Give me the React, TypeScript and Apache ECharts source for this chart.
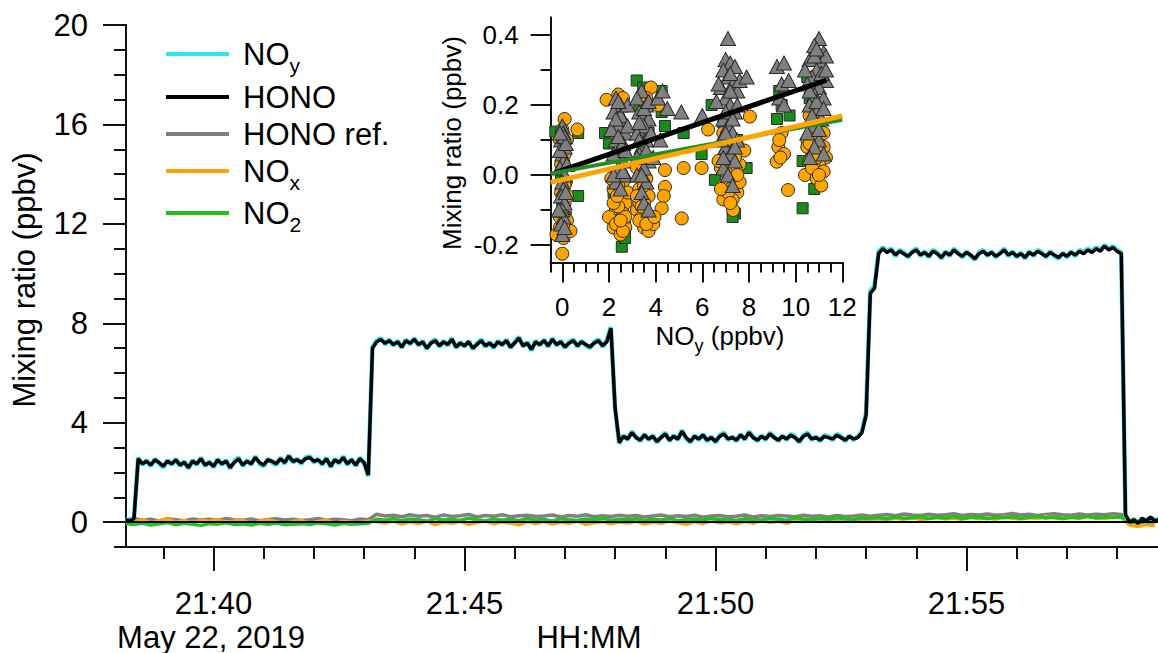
import React, { useEffect, useRef } from "react";
import * as echarts from "echarts";

// ---------- time base (minutes after 21:00) ----------
const START_MIN = 38.25;
const FAST_STEP_MIN = 5 / 60;
const SLOW_STEP_MIN = 10 / 60;

// ---------- main time series (5 s) ----------
const HONO = [
  0.10, 0.05, 0.15,
  2.55, 2.35, 2.45, 2.30, 2.50, 2.40, 2.25, 2.45, 2.35, 2.50,
  2.30, 2.40, 2.20, 2.45, 2.35, 2.55, 2.30, 2.40, 2.25, 2.50,
  2.35, 2.45, 2.20, 2.40, 2.55, 2.30, 2.45, 2.35, 2.60, 2.40,
  2.30, 2.50, 2.45, 2.35, 2.55, 2.40, 2.65, 2.45, 2.50, 2.40,
  2.55, 2.60, 2.45, 2.50, 2.35, 2.55, 2.25, 2.50, 2.40, 2.60,
  2.35, 2.50, 2.30, 2.55, 2.40,
  1.90,
  7.00, 7.25, 7.35, 7.20, 7.30, 7.15, 7.25, 7.05, 7.30, 7.20,
  7.35, 7.15, 7.25, 7.00, 7.20, 7.30, 7.10, 7.25, 7.15, 7.35,
  7.05, 7.20, 7.10, 7.25, 7.00, 7.15, 7.30, 7.10, 7.20, 7.05,
  7.25, 7.15, 7.30, 7.05, 7.20, 7.40, 7.10, 7.20, 6.95, 7.25,
  7.15, 7.30, 7.10, 7.35, 7.15, 7.25, 7.05, 7.20, 7.30, 7.10,
  7.25, 7.15, 7.05, 7.20, 7.30, 7.10, 7.25,
  7.80, 4.60,
  3.20, 3.45, 3.35, 3.60, 3.40, 3.30, 3.50, 3.35, 3.45, 3.25,
  3.40, 3.55, 3.30, 3.45, 3.35, 3.65, 3.40, 3.25, 3.45, 3.35,
  3.50, 3.30, 3.40, 3.25, 3.45, 3.55, 3.35, 3.40, 3.30, 3.50,
  3.35, 3.60, 3.40, 3.30, 3.45, 3.35, 3.55, 3.40, 3.30, 3.45,
  3.35, 3.50, 3.40, 3.25, 3.45, 3.55, 3.35, 3.40, 3.30, 3.45,
  3.40, 3.35, 3.50, 3.40, 3.30, 3.45, 3.35, 3.40,
  3.60, 4.30, 9.20, 9.40, 10.80,
  11.00, 10.85, 10.95, 10.75, 10.90, 10.80, 10.70, 10.85, 10.95, 10.75,
  10.85, 10.70, 10.90, 10.80, 10.65, 10.85, 10.75, 10.95, 10.80, 10.70,
  10.85, 10.75, 10.60, 10.80, 10.90, 10.75, 10.85, 10.70, 10.80, 10.95,
  10.75, 10.85, 10.70, 10.80, 10.65, 10.85, 10.75, 10.90, 10.80, 10.70,
  10.85, 10.75, 10.65, 10.80, 10.70, 10.85, 10.75, 10.90, 10.80, 10.95,
  10.85, 11.00, 10.90, 11.10, 10.95, 11.05, 10.90,
  10.80, 0.30,
  0.00, 0.10, -0.05, 0.15, 0.05, 0.20, 0.05, 0.10,
];

const NOY = [
  0.12, 0.08, 0.18,
  2.60, 2.30, 2.50, 2.25, 2.55, 2.35, 2.20, 2.50, 2.30, 2.55,
  2.25, 2.45, 2.15, 2.50, 2.30, 2.60, 2.25, 2.45, 2.20, 2.55,
  2.30, 2.50, 2.15, 2.45, 2.60, 2.25, 2.50, 2.30, 2.65, 2.35,
  2.25, 2.55, 2.40, 2.30, 2.60, 2.35, 2.70, 2.40, 2.55, 2.35,
  2.60, 2.65, 2.40, 2.55, 2.30, 2.60, 2.20, 2.55, 2.35, 2.65,
  2.30, 2.55, 2.25, 2.60, 2.35,
  1.85,
  7.05, 7.30, 7.40, 7.15, 7.35, 7.10, 7.30, 7.00, 7.35, 7.15,
  7.40, 7.10, 7.30, 6.95, 7.25, 7.35, 7.05, 7.30, 7.10, 7.40,
  7.00, 7.25, 7.05, 7.30, 6.95, 7.20, 7.35, 7.05, 7.25, 7.00,
  7.30, 7.10, 7.35, 7.00, 7.25, 7.45, 7.05, 7.25, 6.90, 7.30,
  7.10, 7.35, 7.05, 7.40, 7.10, 7.30, 7.00, 7.25, 7.35, 7.05,
  7.30, 7.10, 7.00, 7.25, 7.35, 7.05, 7.30,
  7.85, 4.55,
  3.15, 3.50, 3.30, 3.65, 3.45, 3.25, 3.55, 3.30, 3.50, 3.20,
  3.45, 3.60, 3.25, 3.50, 3.30, 3.70, 3.35, 3.20, 3.50, 3.30,
  3.55, 3.25, 3.45, 3.20, 3.50, 3.60, 3.30, 3.45, 3.25, 3.55,
  3.30, 3.65, 3.45, 3.25, 3.50, 3.30, 3.60, 3.45, 3.25, 3.50,
  3.30, 3.55, 3.45, 3.20, 3.50, 3.60, 3.30, 3.45, 3.25, 3.50,
  3.45, 3.30, 3.55, 3.45, 3.25, 3.50, 3.30, 3.45,
  3.65, 4.40, 9.30, 9.50, 10.90,
  11.05, 10.90, 11.00, 10.70, 10.95, 10.85, 10.65, 10.90, 11.00, 10.70,
  10.90, 10.65, 10.95, 10.85, 10.60, 10.90, 10.70, 11.00, 10.85, 10.65,
  10.90, 10.70, 10.55, 10.85, 10.95, 10.70, 10.90, 10.65, 10.85, 11.00,
  10.70, 10.90, 10.65, 10.85, 10.60, 10.90, 10.70, 10.95, 10.85, 10.65,
  10.90, 10.70, 10.60, 10.85, 10.65, 10.90, 10.70, 10.95, 10.85, 11.00,
  10.90, 11.05, 10.95, 11.15, 11.00, 11.10, 10.95,
  10.85, 0.25,
  0.02, 0.12, -0.03, 0.14, 0.08, 0.18, 0.07, 0.12,
];

// ---------- low-level series (10 s) ----------
const HONO_REF = [
  0.10, 0.15, 0.08, 0.12, 0.05, 0.14, 0.10, 0.06, 0.13, 0.09, 0.12, 0.07, 0.15, 0.10, 0.08,
  0.13, 0.06, 0.11, 0.14, 0.09, 0.12, 0.07, 0.10, 0.15, 0.08, 0.12, 0.10, 0.06, 0.13, 0.10,
  0.32, 0.25, 0.28, 0.22, 0.30, 0.24, 0.27, 0.20, 0.29, 0.23, 0.26, 0.31, 0.21, 0.27, 0.24,
  0.30, 0.22, 0.26, 0.28, 0.23, 0.25, 0.29, 0.21, 0.27, 0.24, 0.30, 0.22, 0.26, 0.23, 0.28,
  0.24, 0.27, 0.21, 0.25, 0.29, 0.22, 0.26, 0.23, 0.28, 0.20, 0.25, 0.27, 0.22, 0.24, 0.29,
  0.21, 0.26, 0.23, 0.27, 0.25, 0.22, 0.28, 0.24, 0.26, 0.21, 0.27, 0.23, 0.25, 0.29, 0.24,
  0.28, 0.31, 0.26, 0.33, 0.29, 0.27, 0.32, 0.28, 0.30, 0.34, 0.27, 0.31, 0.29, 0.33, 0.28,
  0.30, 0.35, 0.29, 0.32, 0.27, 0.31, 0.34, 0.30, 0.28, 0.33, 0.29, 0.32, 0.30, 0.34, 0.31,
  0.05, -0.02, 0.04, 0.01,
];

const NOX = [
  0.08, 0.02, 0.10, -0.02, 0.06, 0.12, 0.00, 0.07, -0.04, 0.09, 0.03, 0.11, -0.01, 0.05, 0.08,
  -0.06, 0.04, 0.10, 0.01, -0.08, 0.03, 0.07, -0.05, 0.02, 0.09, -0.07, 0.04, 0.00, -0.03, 0.05,
  0.02, -0.04, 0.05, -0.08, 0.01, -0.06, 0.04, -0.10, 0.00, -0.05, 0.03, -0.09, -0.02, 0.05, -0.07,
  0.01, -0.04, -0.11, 0.02, -0.06, 0.03, -0.08, 0.00, -0.05, 0.04, -0.09, -0.03, 0.02, -0.07, 0.01,
  -0.04, 0.03, -0.08, 0.00, -0.05, 0.04, -0.02, -0.09, 0.02, -0.06, 0.05, -0.03, 0.01, -0.07, 0.03,
  -0.04, 0.06, -0.01, 0.04, -0.05, 0.07, 0.02, 0.08, 0.03, 0.10, 0.05, 0.09, 0.12, 0.06, 0.11,
  0.14, 0.09, 0.16, 0.12, 0.18, 0.10, 0.15, 0.19, 0.13, 0.17, 0.11, 0.20, 0.14, 0.18, 0.12,
  0.21, 0.16, 0.13, 0.19, 0.15, 0.22, 0.17, 0.14, 0.20, 0.16, 0.23, 0.18, 0.15, 0.21, 0.19,
  -0.12, -0.18, -0.10, -0.15,
];

const NO2 = [
  -0.06, -0.10, -0.04, -0.12, -0.07, -0.02, -0.11, -0.05, -0.09, -0.13, -0.06, -0.08, -0.03, -0.10, -0.07,
  -0.12, -0.05, -0.09, -0.04, -0.11, -0.08, -0.06, -0.10, -0.03, -0.07, -0.12, -0.05, -0.09, -0.06, -0.04,
  0.12, 0.08, 0.15, 0.06, 0.13, 0.10, 0.04, 0.14, 0.09, 0.11, 0.07, 0.16, 0.10, 0.05, 0.13,
  0.08, 0.12, 0.06, 0.15, 0.09, 0.11, 0.04, 0.14, 0.10, 0.07, 0.13, 0.09, 0.16, 0.08, 0.12,
  0.10, 0.14, 0.07, 0.12, 0.09, 0.15, 0.06, 0.11, 0.13, 0.08, 0.16, 0.10, 0.12, 0.07, 0.14,
  0.11, 0.09, 0.15, 0.12, 0.08, 0.17, 0.13, 0.10, 0.16, 0.12, 0.18, 0.14, 0.11, 0.17, 0.15,
  0.19, 0.14, 0.21, 0.16, 0.18, 0.22, 0.15, 0.20, 0.17, 0.23, 0.16, 0.19, 0.21, 0.14, 0.20,
  0.18, 0.22, 0.16, 0.19, 0.23, 0.17, 0.21, 0.15, 0.20, 0.18, 0.24, 0.17, 0.21, 0.19, 0.22,
  0.02, -0.04, 0.03, -0.01,
];

// ---------- tick values ----------
const MAIN_Y_MAJOR = [0, 4, 8, 12, 16, 20];
const MAIN_Y_MINOR = [-1, 0, 1, 2, 3, 4, 5, 6, 7, 8, 9, 10, 11, 12, 13, 14, 15, 16, 17, 18, 19, 20];
const MAIN_X_MAJOR = [40, 45, 50, 55];
const MAIN_X_MINOR = [39, 40, 41, 42, 43, 44, 45, 46, 47, 48, 49, 50, 51, 52, 53, 54, 55, 56, 57, 58];
const INSET_X_MAJOR = [0, 2, 4, 6, 8, 10, 12];
const INSET_X_MINOR = [-0.5, 0, 0.5, 1, 1.5, 2, 2.5, 3, 3.5, 4, 4.5, 5, 5.5, 6, 6.5, 7, 7.5, 8, 8.5, 9, 9.5, 10, 10.5, 11, 11.5, 12];
const INSET_Y_MAJOR = [-0.2, 0, 0.2, 0.4];
const INSET_Y_MINOR = [-0.2, -0.1, 0, 0.1, 0.2, 0.3, 0.4];

// ---------- inset scatter (x = NOy, y = mixing ratio) ----------
const SC_HONO_REF = [
  [0.0, 0.14], [0.05, 0.12], [-0.05, 0.10], [0.1, 0.08], [0.0, 0.06], [0.05, 0.04], [-0.1, 0.02], [0.1, 0.0],
  [0.0, -0.02], [0.05, -0.04], [-0.05, -0.06], [0.1, -0.08], [0.0, -0.1], [0.05, -0.12], [-0.05, -0.14],
  [0.0, -0.17], [0.1, 0.11], [0.15, -0.05], [-0.1, 0.07],
  [0.15, 0.09], [-0.15, -0.1], [0.2, 0.03], [0.1, -0.15], [-0.1, 0.12],
  [2.3, 0.22], [2.5, 0.2], [2.2, 0.18], [2.6, 0.16], [2.4, 0.14], [2.7, 0.12], [2.3, 0.1], [2.5, 0.08],
  [2.2, 0.06], [2.6, 0.04], [2.4, 0.02], [2.7, 0.0], [2.3, -0.02], [2.5, 0.17], [2.8, 0.2], [2.4, 0.21],
  [2.6, 0.09], [2.5, -0.04], [2.1, 0.13],
  [2.2, 0.0], [2.7, 0.07], [2.4, 0.11], [2.3, 0.16], [2.6, 0.01], [2.8, 0.14],
  [3.4, 0.24], [3.2, 0.22], [3.6, 0.2], [3.3, 0.18], [3.7, 0.16], [3.5, 0.14], [3.2, 0.12], [3.6, 0.1],
  [3.4, 0.08], [3.3, 0.06], [3.7, 0.04], [3.5, 0.02], [3.2, 0.0], [3.6, -0.02], [3.4, -0.05], [3.5, -0.08],
  [3.7, -0.1], [3.8, 0.12], [3.3, 0.15],
  [3.3, 0.1], [3.5, 0.19], [3.6, 0.07], [3.4, 0.0], [3.7, 0.21], [3.2, 0.05],
  [4.1, 0.22], [4.3, 0.24], [4.5, 0.19], [4.2, 0.1], [5.1, 0.18], [6.0, 0.17], [3.9, 0.05],
  [7.1, 0.39], [7.0, 0.33], [7.2, 0.32], [6.9, 0.3], [7.4, 0.31], [7.1, 0.28], [7.3, 0.26], [6.8, 0.25],
  [7.5, 0.24], [7.0, 0.22], [7.2, 0.2], [7.4, 0.18], [6.9, 0.16], [7.1, 0.14], [7.3, 0.12], [7.5, 0.1],
  [7.0, 0.08], [7.2, 0.06], [7.4, 0.04], [6.9, 0.02], [7.1, 0.0], [7.3, -0.03], [7.6, 0.27], [6.7, 0.26],
  [7.9, 0.28], [6.6, 0.21],
  [7.0, 0.18], [7.2, 0.24], [7.3, 0.16], [6.8, 0.1], [7.5, 0.2], [7.2, 0.29], [7.0, 0.12], [7.4, 0.08], [6.9, 0.05],
  [9.2, 0.31], [9.5, 0.32], [9.4, 0.26], [9.7, 0.27], [9.3, 0.22], [9.5, 0.2],
  [11.0, 0.39], [10.8, 0.37], [11.2, 0.35], [10.6, 0.33], [11.1, 0.32], [10.9, 0.3], [10.7, 0.28], [11.3, 0.27],
  [10.5, 0.26], [11.0, 0.25], [10.8, 0.23], [11.2, 0.22], [10.6, 0.2], [10.9, 0.18], [11.1, 0.16], [10.7, 0.14],
  [10.5, 0.12], [11.0, 0.1], [10.8, 0.08], [11.2, 0.06], [10.6, 0.05], [10.9, 0.21], [11.3, 0.34], [10.4, 0.3],
  [10.8, 0.34], [11.1, 0.29], [10.6, 0.24], [11.2, 0.19], [10.7, 0.17], [11.0, 0.13], [10.9, 0.36], [11.3, 0.3],
];

const SC_NOX = [
  [0.1, 0.16], [0.0, 0.13], [-0.1, 0.1], [0.1, 0.06], [0.0, 0.02], [0.15, -0.02], [-0.05, -0.05], [0.1, -0.08],
  [0.0, -0.11], [0.2, -0.13], [-0.1, -0.15], [-0.25, -0.17], [0.05, -0.18], [0.35, -0.16], [0.0, -0.225],
  [0.65, 0.13], [0.2, -0.06], [-0.1, -0.12],
  [0.1, -0.03], [-0.05, 0.03], [0.2, 0.1], [0.05, -0.14],
  [1.9, 0.215], [2.4, 0.23], [2.6, 0.22], [2.5, 0.05], [2.3, 0.0], [2.6, -0.02], [2.2, -0.04], [2.5, -0.06],
  [2.7, -0.08], [2.3, -0.1], [2.6, -0.11], [2.4, -0.13], [2.2, -0.15], [2.7, -0.15], [2.5, -0.17], [2.0, -0.12],
  [2.8, -0.05], [2.4, -0.09], [2.1, -0.01],
  [2.3, -0.14], [2.6, -0.16], [2.4, -0.03], [2.2, -0.08], [2.7, -0.12], [2.5, -0.13], [2.35, -0.06],
  [3.8, 0.25], [3.6, 0.22], [3.4, 0.06], [3.2, 0.02], [3.6, -0.01], [3.3, -0.04], [3.7, -0.06], [3.5, -0.08],
  [3.2, -0.1], [3.6, -0.11], [3.4, -0.12], [3.8, -0.13], [3.5, -0.15], [3.7, -0.16], [3.9, -0.14], [3.3, -0.08],
  [3.3, -0.13], [3.5, -0.03], [3.6, -0.14], [3.2, -0.06], [3.4, -0.09],
  [4.4, 0.014], [4.4, -0.034], [4.35, -0.06], [4.26, -0.095], [3.95, -0.12], [5.12, -0.124], [5.2, 0.02],
  [5.97, 0.02], [6.25, 0.13], [4.1, 0.2],
  [6.9, 0.12], [7.2, 0.1], [7.5, 0.08], [7.0, 0.06], [7.3, 0.04], [6.8, 0.02], [7.6, 0.03], [7.1, 0.0],
  [7.4, -0.01], [6.9, -0.03], [7.2, -0.04], [7.5, -0.05], [7.0, -0.06], [7.3, -0.07], [6.9, -0.07], [7.32, -0.1],
  [7.6, -0.02], [8.04, 0.167], [7.8, 0.07], [6.7, 0.04],
  [7.1, -0.05], [7.0, 0.01], [7.4, 0.05], [7.2, -0.08], [7.5, 0.0], [6.8, -0.04],
  [9.19, 0.038], [9.26, 0.08], [9.4, 0.12], [9.3, 0.1], [9.5, 0.06], [9.67, -0.043], [9.35, 0.05],
  [10.6, 0.17], [11.0, 0.15], [10.8, 0.13], [11.2, 0.12], [10.5, 0.1], [10.9, 0.09], [11.1, 0.07], [10.7, 0.06],
  [11.3, 0.05], [10.6, 0.04], [11.0, 0.03], [10.8, 0.02], [10.4, 0.0], [11.2, 0.01], [10.9, -0.01], [11.1, -0.03],
  [10.5, 0.08], [10.7, 0.11],
  [10.7, 0.02], [10.9, 0.05], [11.0, 0.0], [10.6, 0.09], [11.2, 0.08], [10.8, 0.15],
];

const SC_NO2 = [
  [-0.3, 0.124], [0.68, 0.12], [0.68, -0.06], [0.1, 0.1], [0.0, 0.05], [0.1, -0.02], [0.0, -0.09], [0.15, -0.12], [-0.05, 0.0],
  [1.83, 0.12], [2.0, 0.09], [2.55, -0.205], [2.69, -0.18], [2.69, -0.148], [2.3, 0.05], [2.6, -0.1], [2.4, 0.15], [2.2, -0.05],
  [3.19, 0.27], [3.47, 0.25], [4.26, 0.24], [4.26, 0.18], [4.4, 0.14], [3.3, 0.2], [3.6, 0.05], [3.4, -0.06], [3.7, 0.12],
  [5.2, 0.12], [5.97, 0.06], [6.4, 0.2],
  [6.54, -0.014], [7.4, -0.11], [7.9, 0.02], [6.9, 0.15], [7.2, 0.05], [7.0, -0.05], [7.5, 0.1], [7.3, -0.12],
  [9.2, 0.16], [9.74, 0.17], [9.4, 0.2], [9.3, 0.24],
  [10.3, -0.095], [10.3, 0.04], [10.6, 0.22], [11.0, 0.15], [10.8, -0.04], [11.2, 0.05], [10.5, 0.28],
];

const FIT_HONO_REF = [[-0.3, 0.007], [11.33, 0.271]];
const FIT_NO2 = [[-0.5, 0.004], [12, 0.158]];
const FIT_NOX = [[-0.5, -0.021], [12, 0.169]];

// ---------- styling ----------
const FONT = "'Liberation Sans', Arial, Helvetica, sans-serif";
const C_NOY = "#2ee6f2";
const C_HONO = "#000000";
const C_REF = "#808080";
const C_NOX = "#ffa500";
const C_NO2 = "#1fc21f";
const C_NO2_DARK = "#1a8c1a";
const AXIS_COLOR = "#111";

const toSeries = (values: number[], step: number) =>
  values.map((v, i) => [START_MIN + i * step, v]);

function tickAxis(extra: any, ticks: number[], len: number, labels: any) {
  return {
    type: "value",
    splitLine: { show: false },
    axisLine: { show: true, onZero: false, lineStyle: { color: AXIS_COLOR, width: 2 } },
    axisTick: { show: true, inside: false, length: len, customValues: ticks, lineStyle: { color: AXIS_COLOR, width: 2 } },
    axisLabel: labels ? { show: true, customValues: ticks, color: "#000", fontFamily: FONT, ...labels } : { show: false },
    ...extra,
  };
}

const RICH_MAIN = {
  n: { fontSize: 31, lineHeight: 31, fontFamily: FONT, verticalAlign: "top", fill: "#000" },
  s: { fontSize: 21, lineHeight: 21, fontFamily: FONT, verticalAlign: "top", padding: [16, 0, 0, 0], fill: "#000" },
};
const RICH_INSET = {
  n: { fontSize: 26, lineHeight: 26, fontFamily: FONT, verticalAlign: "top", fill: "#000" },
  s: { fontSize: 18, lineHeight: 18, fontFamily: FONT, verticalAlign: "top", padding: [14, 0, 0, 0], fill: "#000" },
};

const LEGEND = [
  { text: "{n|NO}{s|y}", color: C_NOY, y: 54 },
  { text: "{n|HONO}", color: C_HONO, y: 97 },
  { text: "{n|HONO ref.}", color: C_REF, y: 134 },
  { text: "{n|NO}{s|x}", color: C_NOX, y: 171 },
  { text: "{n|NO}{s|2}", color: C_NO2, y: 213 },
];

export default function App() {
  const ref = useRef<HTMLDivElement>(null);

  useEffect(() => {
    if (!ref.current) return;
    const chart = echarts.init(ref.current, undefined, { renderer: "svg" });

    const graphic: any[] = [];
    LEGEND.forEach((l) => {
      graphic.push({
        type: "line",
        shape: { x1: 166, y1: l.y, x2: 229, y2: l.y },
        style: { stroke: l.color, lineWidth: 4 },
      });
      graphic.push({
        type: "text",
        x: 243,
        y: l.y - 15.5,
        style: { text: l.text, rich: RICH_MAIN, fill: "#000", align: "left", verticalAlign: "top", fontFamily: FONT, fontSize: 31 },
      });
    });
    graphic.push(
      { type: "text", x: 211, y: 637, style: { text: "May 22, 2019", fill: "#000", fontFamily: FONT, fontSize: 31, lineHeight: 26, align: "center", verticalAlign: "middle" } },
      { type: "text", x: 589, y: 637, style: { text: "HH:MM", fill: "#000", fontFamily: FONT, fontSize: 31, lineHeight: 26, align: "center", verticalAlign: "middle" } },
      { type: "text", x: 24, y: 280, rotation: Math.PI / 2, style: { text: "Mixing ratio (ppbv)", fill: "#000", fontFamily: FONT, fontSize: 31, align: "center", verticalAlign: "middle" } },
      { type: "text", x: 452, y: 143, rotation: Math.PI / 2, style: { text: "Mixing ratio (ppbv)", fill: "#000", fontFamily: FONT, fontSize: 26, align: "center", verticalAlign: "middle" } },
      { type: "text", x: 720, y: 323, style: { text: "{n|NO}{s|y}{n| (ppbv)}", rich: RICH_INSET, fill: "#000", fontFamily: FONT, fontSize: 26, align: "center", verticalAlign: "top" } }
    );

    const mainXRange = { gridIndex: 0, min: 38.257, max: 58.815, position: "bottom" };
    const mainYRange = { gridIndex: 0, min: -1, max: 20, position: "left" };
    const insetXRange = { gridIndex: 1, min: -0.5, max: 12, position: "bottom" };
    const insetYRange = { gridIndex: 1, min: -0.25, max: 0.45, position: "left" };

    const lineSeries = (name: string, data: any, color: string, width: number, extra: any = {}) => ({
      name,
      type: "line",
      xAxisIndex: 0,
      yAxisIndex: 0,
      data,
      showSymbol: false,
      symbol: "none",
      lineStyle: { color, width },
      itemStyle: { color },
      emphasis: { disabled: true },
      ...extra,
    });

    const scatter = (name: string, data: any, symbol: string, size: any, color: string) => ({
      name,
      type: "scatter",
      xAxisIndex: 2,
      yAxisIndex: 2,
      data,
      symbol,
      symbolSize: size,
      itemStyle: { color, borderColor: "#2a2a2a", borderWidth: 1, opacity: 1 },
      emphasis: { disabled: true },
    });

    const fitLine = (name: string, data: any, color: string, width: number) => ({
      name,
      type: "line",
      xAxisIndex: 2,
      yAxisIndex: 2,
      data,
      showSymbol: false,
      symbol: "none",
      lineStyle: { color, width },
      emphasis: { disabled: true },
    });

    chart.setOption({
      animation: false,
      backgroundColor: "#ffffff",
      textStyle: { fontFamily: FONT },
      grid: [
        { left: 126, top: 25, right: 0, bottom: 106, containLabel: false, outerBoundsMode: "none" },
        { left: 550.6, top: 17.5, right: 315.7, bottom: 390.5, containLabel: false, outerBoundsMode: "none" },
      ],
      xAxis: [
        tickAxis(mainXRange, MAIN_X_MINOR, 12, null),
        tickAxis(mainXRange, MAIN_X_MAJOR, 24, {
          fontSize: 31,
          lineHeight: 26,
          margin: 43,
          formatter: (v: number) => "21:" + String(Math.round(v)),
        }),
        tickAxis(insetXRange, INSET_X_MINOR, 10, null),
        tickAxis(insetXRange, INSET_X_MAJOR, 20, { fontSize: 26, lineHeight: 22, margin: 33 }),
      ],
      yAxis: [
        tickAxis(mainYRange, MAIN_Y_MINOR, 12, null),
        tickAxis(mainYRange, MAIN_Y_MAJOR, 23, { fontSize: 31, margin: 38 }),
        tickAxis(insetYRange, INSET_Y_MINOR, 10, null),
        tickAxis(insetYRange, INSET_Y_MAJOR, 20, {
          fontSize: 26,
          margin: 32,
          formatter: (v: number) => v.toFixed(1),
        }),
      ],
      graphic,
      series: [
        lineSeries("HONO ref.", toSeries(HONO_REF, SLOW_STEP_MIN), C_REF, 3.5),
        lineSeries("NOx", toSeries(NOX, SLOW_STEP_MIN), C_NOX, 3.5),
        lineSeries("NO2", toSeries(NO2, SLOW_STEP_MIN), C_NO2, 3.5),
        lineSeries("NOy", toSeries(NOY, FAST_STEP_MIN), C_NOY, 4.5),
        lineSeries("HONO", toSeries(HONO, FAST_STEP_MIN), C_HONO, 3.5, {
          markLine: {
            silent: true,
            symbol: ["none", "none"],
            label: { show: false },
            lineStyle: { color: "#000", width: 2, type: "solid" },
            emphasis: { disabled: true },
            data: [{ yAxis: 0 }],
          },
        }),
        scatter("NO2 vs NOy", SC_NO2, "rect", 11, C_NO2_DARK),
        scatter("NOx vs NOy", SC_NOX, "circle", 13, C_NOX),
        scatter("HONO ref. vs NOy", SC_HONO_REF, "triangle", [15, 14], C_REF),
        fitLine("HONO ref. fit", FIT_HONO_REF, "#000", 5),
        fitLine("NO2 fit", FIT_NO2, "#238c23", 4),
        fitLine("NOx fit", FIT_NOX, C_NOX, 5),
      ],
    });

    return () => chart.dispose();
  }, []);

  return (
    <div
      ref={ref}
      style={{ position: "fixed", left: 0, top: 0, width: 1158, height: 653, background: "#fff" }}
    />
  );
}
